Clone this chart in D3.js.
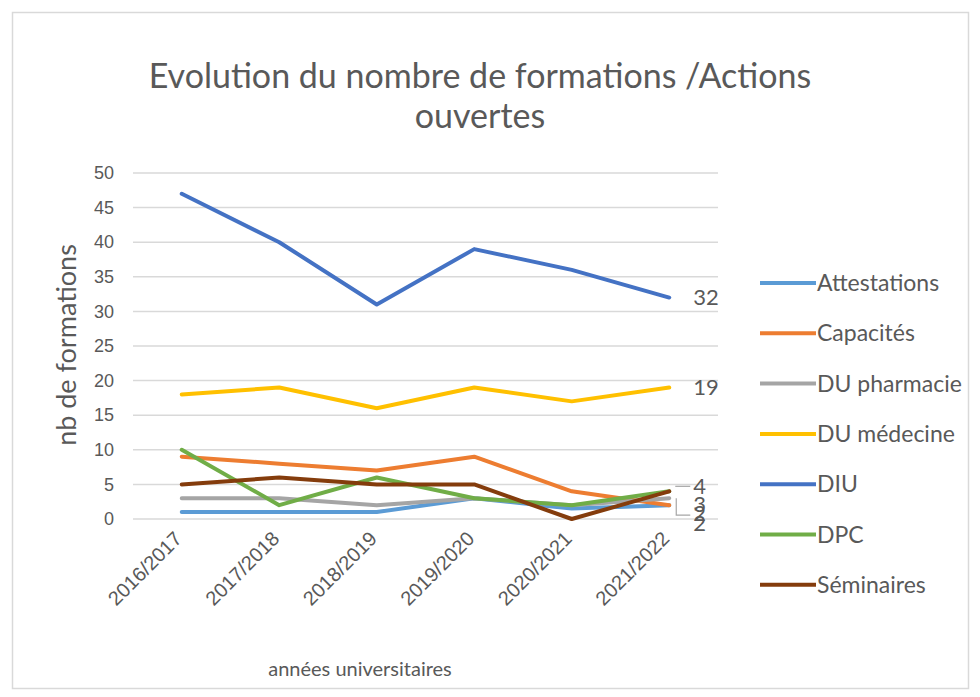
<!DOCTYPE html>
<html>
<head>
<meta charset="utf-8">
<script src="https://cdn.jsdelivr.net/npm/d3@7.9.0/dist/d3.min.js"></script>
<style>
  body { margin: 0; background: #fff; }
  svg { display: block; font-family: Lato, 'Open Sans', sans-serif; }
</style>
</head>
<body>
<svg id="chart" width="980" height="697"></svg>
<script>
// data
const years = ['2016/2017', '2017/2018', '2018/2019', '2019/2020', '2020/2021', '2021/2022'];
const seriesNames = ['Attestations', 'Capacités', 'DU pharmacie', 'DU médecine', 'DIU', 'DPC', 'Séminaires'];
const attestations = [1, 1, 1, 3, 1.5, 2];
const capacites = [9, 8, 7, 9, 4, 2];
const duPharmacie = [3, 3, 2, 3, 2, 3];
const duMedecine = [18, 19, 16, 19, 17, 19];
const diu = [47, 40, 31, 39, 36, 32];
const dpc = [10, 2, 6, 3, 2, 4];
const seminaires = [5, 6, 5, 5, 0, 4];
const yTicks = [0, 5, 10, 15, 20, 25, 30, 35, 40, 45, 50];
const colors = ['#5b9bd5', '#ed7d31', '#a5a5a5', '#ffc000', '#4472c4', '#70ad47', '#843c0c'];
// end-of-line labels: [series index, text, dy offset]
const endLabels = [[4, '32', 0], [3, '19', 0], [5, '4', -5], [2, '3', 6], [0, '2', 8], [1, '2', 18]];

const allValues = [attestations, capacites, duPharmacie, duMedecine, diu, dpc, seminaires];
const series = seriesNames.map((name, i) => ({ name, color: colors[i], values: allValues[i] }));

const svg = d3.select('#chart');
const grey = '#595959';

// outer frame
svg.append('rect')
  .attr('x', 12.5).attr('y', 12.5).attr('width', 956).attr('height', 676)
  .attr('fill', '#fff').attr('stroke', '#d9d9d9').attr('stroke-width', 1.5);

const x = d3.scalePoint().domain(years).range([133, 718]).padding(0.5);
const y = d3.scaleLinear().domain([0, 50]).range([519, 173]);

// gridlines
svg.append('g')
  .selectAll('line')
  .data(yTicks)
  .join('line')
  .attr('x1', 133).attr('x2', 718)
  .attr('y1', d => y(d)).attr('y2', d => y(d))
  .attr('stroke', '#d9d9d9').attr('stroke-width', 1.5);

// y axis
const yAxis = svg.append('g')
  .attr('transform', 'translate(133,0)')
  .call(d3.axisLeft(y).tickValues(yTicks).tickSize(0).tickPadding(19));
yAxis.select('.domain').remove();
yAxis.selectAll('text').attr('fill', grey).style('font-size', '18px');

// x axis
const xAxis = svg.append('g')
  .attr('transform', 'translate(0,519)')
  .call(d3.axisBottom(x).tickSize(0));
xAxis.select('.domain').remove();
xAxis.selectAll('text')
  .attr('fill', grey).style('font-size', '20px')
  .attr('text-anchor', 'end')
  .attr('y', 0).attr('dy', '0.35em')
  .attr('transform', 'translate(-4,16) rotate(-45)');

// lines
const line = d3.line()
  .x((d, i) => x(years[i]))
  .y(d => y(d));

svg.append('g')
  .selectAll('path')
  .data(series)
  .join('path')
  .attr('d', d => line(d.values))
  .attr('fill', 'none')
  .attr('stroke', d => d.color)
  .attr('stroke-width', 4)
  .attr('stroke-linejoin', 'round')
  .attr('stroke-linecap', 'round');

// end labels
const last = years[years.length - 1];
endLabels.forEach(([si, txt, dy]) => {
  const yy = y(series[si].values[years.length - 1]) + dy;
  svg.append('text')
    .attr('x', x(last) + 24)
    .attr('y', yy)
    .attr('dy', '0.35em')
    .attr('fill', grey)
    .style('font-size', '22px')
    .text(txt);
});
// leader lines for the crowded labels
svg.append('line')
  .attr('x1', x(last) + 6).attr('x2', x(last) + 21)
  .attr('y1', y(4) - 5).attr('y2', y(4) - 5)
  .attr('stroke', '#a6a6a6').attr('stroke-width', 1.2);
svg.append('path')
  .attr('d', `M${x(last) + 7},${y(3)}V${y(2) + 10}H${x(last) + 21}`)
  .attr('fill', 'none').attr('stroke', '#a6a6a6').attr('stroke-width', 1.2);

// title
svg.append('text')
  .attr('x', 480).attr('y', 88)
  .attr('text-anchor', 'middle')
  .attr('fill', grey)
  .style('font-size', '34px')
  .text('Evolution du nombre de formations /Actions');
svg.append('text')
  .attr('x', 480).attr('y', 128)
  .attr('text-anchor', 'middle')
  .attr('fill', grey)
  .style('font-size', '34px')
  .text('ouvertes');

// axis titles
svg.append('text')
  .attr('transform', 'translate(76,345) rotate(-90)')
  .attr('text-anchor', 'middle')
  .attr('fill', grey)
  .style('font-size', '27px')
  .text('nb de formations');
svg.append('text')
  .attr('x', 360).attr('y', 676)
  .attr('text-anchor', 'middle')
  .attr('fill', grey)
  .style('font-size', '20px')
  .text('années universitaires');

// legend
const legend = svg.append('g')
  .selectAll('g')
  .data(series)
  .join('g')
  .attr('transform', (d, i) => `translate(760,${283 + i * 50.3})`);
legend.append('line')
  .attr('x1', 0).attr('x2', 56)
  .attr('stroke', d => d.color).attr('stroke-width', 4);
legend.append('text')
  .attr('x', 57).attr('dy', '0.35em')
  .attr('fill', grey)
  .style('font-size', '23px')
  .text(d => d.name);
</script>
</body>
</html>
